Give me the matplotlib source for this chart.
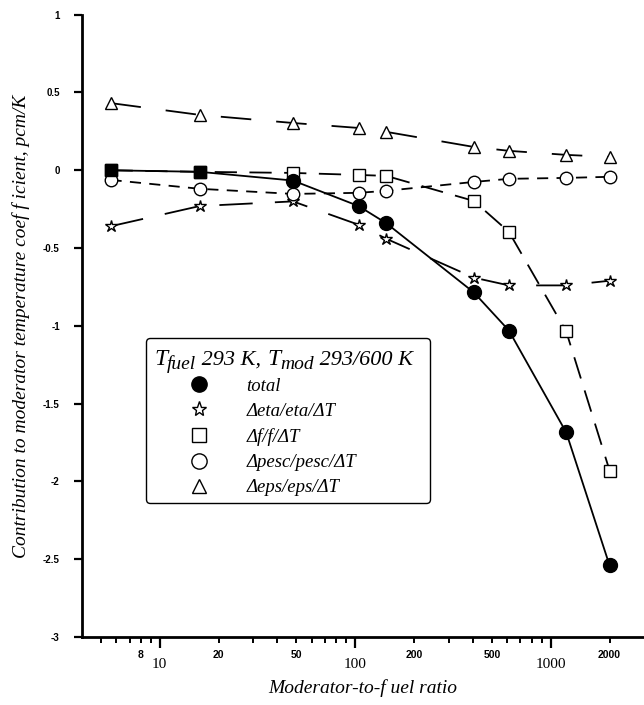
import matplotlib
matplotlib.use("Agg")
import matplotlib.pyplot as plt
from matplotlib.lines import Line2D
from matplotlib.text import Annotation
from matplotlib.ticker import FixedLocator, FuncFormatter

plt.rcParams["lines.scale_dashes"] = False

# ---- data ----
ratio = [5.6, 16, 48, 104, 144, 404, 611, 1200, 2000]
total = [0.00, -0.01, -0.066, -0.23, -0.34, -0.785, -1.03, -1.685, -2.54]
eta = [-0.36, -0.23, -0.20, -0.35, -0.44, -0.69, -0.74, -0.74, -0.71]
f_term = [0.00, -0.01, -0.017, -0.03, -0.036, -0.197, -0.396, -1.036, -1.93]
pesc = [-0.062, -0.119, -0.152, -0.145, -0.132, -0.075, -0.055, -0.049, -0.042]
eps = [0.432, 0.356, 0.304, 0.272, 0.247, 0.150, 0.125, 0.099, 0.086]
total_shape = ["s", "s", "o", "o", "o", "o", "o", "o", "o"]

yticks = [1, 0.5, 0, -0.5, -1, -1.5, -2, -2.5, -3]
ytick_labels = ["1", "0.5", "0", "-0.5", "-1", "-1.5", "-2", "-2.5", "-3"]
xmajor = [10, 100, 1000]
xminor_labelled = [8, 20, 50, 200, 500, 2000]
legend_labels = ["total", "Δeta/eta/ΔT", "Δf/f/ΔT", "Δpesc/pesc/ΔT", "Δeps/eps/ΔT"]
title_parts = [("T", 0, 17), ("fuel", -4, 14), (" 293 K, ", 0, 16),
               ("T", 0, 17), ("mod", -4, 14), (" 293/600 K", 0, 16)]

serif = "Liberation Serif"
sans = "Liberation Sans"

fig = plt.figure(figsize=(6.44, 7.05), dpi=100)
W, H = 644, 705
ax = fig.add_axes([82 / W, 68 / H, (644 - 82) / W, (637 - 14.7) / H])

ax.set_xscale("log")
ax.set_xlim(4, 3000)
ax.set_ylim(-3, 1)

lw = 1.3
ax.plot(ratio, total, color="black", lw=lw, ls="-")
ax.plot(ratio, eta, color="black", lw=lw, dashes=(24, 16))
ax.plot(ratio, f_term, color="black", lw=lw, dashes=(16, 9))
ax.plot(ratio, pesc, color="black", lw=lw, dashes=(8, 6))
ax.plot(ratio, eps, color="black", lw=lw, dashes=(22, 18))

ms = 9
ax.plot(ratio, eta, ls="none", marker="*", ms=ms, mfc="white", mec="black", mew=1.0)
ax.plot(ratio, f_term, ls="none", marker="s", ms=ms, mfc="white", mec="black", mew=1.0)
ax.plot(ratio, pesc, ls="none", marker="o", ms=ms, mfc="white", mec="black", mew=1.0)
ax.plot(ratio, eps, ls="none", marker="^", ms=ms, mfc="white", mec="black", mew=1.0)
for xv, yv, mk in zip(ratio, total, total_shape):
    ax.plot([xv], [yv], ls="none", marker=mk, ms=10 if mk == "o" else 9,
            mfc="black", mec="black")

for s in ["top", "right"]:
    ax.spines[s].set_visible(False)
ax.spines["left"].set_linewidth(2)
ax.spines["bottom"].set_linewidth(2)

ax.set_yticks(yticks)
ax.set_yticklabels(ytick_labels, fontfamily=sans, fontweight="bold", fontsize=7)
ax.tick_params(axis="y", direction="out", length=6, width=1.6, pad=10)

ax.xaxis.set_major_locator(FixedLocator(xmajor))
ax.xaxis.set_major_formatter(FuncFormatter(lambda v, p: f"{int(round(v))}"))
minors = [m * d for d in (1, 10, 100, 1000) for m in range(2, 10) if 4 < m * d < 3000]
minors = [m for m in minors if m not in xmajor]
ax.xaxis.set_minor_locator(FixedLocator(minors))
ax.xaxis.set_minor_formatter(FuncFormatter(
    lambda v, p: f"{int(round(v))}" if int(round(v)) in xminor_labelled else ""))
ax.tick_params(axis="x", which="major", direction="out", length=8, width=1.6, pad=7)
ax.tick_params(axis="x", which="minor", direction="out", length=4, width=1.4, pad=5)
for lab in ax.get_xticklabels(which="major"):
    lab.set_fontfamily(serif)
    lab.set_fontsize(11)
for lab in ax.get_xticklabels(which="minor"):
    lab.set_fontfamily(sans)
    lab.set_fontweight("bold")
    lab.set_fontsize(7.5)

ax.set_xlabel("Moderator-to-f uel ratio", fontfamily=serif, style="italic",
              fontsize=14, labelpad=6)
ax.set_ylabel("Contribution to moderator temperature coef f icient, pcm/K",
              fontfamily=serif, style="italic", fontsize=14)
ax.yaxis.set_label_coords((30 - 82) / 562, 0.5)

# legend
handles = [
    Line2D([], [], ls="none", marker="o", ms=11, mfc="black", mec="black"),
    Line2D([], [], ls="none", marker="*", ms=11, mfc="white", mec="black", mew=1.0),
    Line2D([], [], ls="none", marker="s", ms=10, mfc="white", mec="black", mew=1.0),
    Line2D([], [], ls="none", marker="o", ms=11, mfc="white", mec="black", mew=1.0),
    Line2D([], [], ls="none", marker="^", ms=10, mfc="white", mec="black", mew=1.0),
]
box_l, box_t, box_w = 146, 338, 284
leg = fig.legend(handles, legend_labels, loc="upper left",
                 bbox_to_anchor=(box_l / W, 1 - box_t / H, box_w / W, 0),
                 mode="expand", title=" ",
                 prop={"family": serif, "style": "italic", "size": 13.5},
                 title_fontproperties={"family": serif, "style": "italic", "size": 20},
                 frameon=True, fancybox=True, edgecolor="black", framealpha=1,
                 handlelength=5.0, handletextpad=0.0, labelspacing=0.43,
                 borderpad=0.35, borderaxespad=0)
leg.get_frame().set_linewidth(1.0)

# legend title in pieces (subscripts slightly smaller and lowered)
title_y = 1 - 365 / H
last = fig.text(154 / W, title_y, title_parts[0][0], fontfamily=serif, style="italic",
                fontsize=title_parts[0][2], va="baseline", ha="left", zorder=20)
for txt, dy, size in title_parts[1:]:
    ann = Annotation(txt, xy=(1, title_y), xycoords=(last, "figure fraction"),
                     xytext=(0, dy * 0.72), textcoords="offset points",
                     fontfamily=serif, style="italic", fontsize=size,
                     va="baseline", ha="left", annotation_clip=False, zorder=20)
    fig.add_artist(ann)
    last = ann

fig.savefig("out.png", dpi=100)
